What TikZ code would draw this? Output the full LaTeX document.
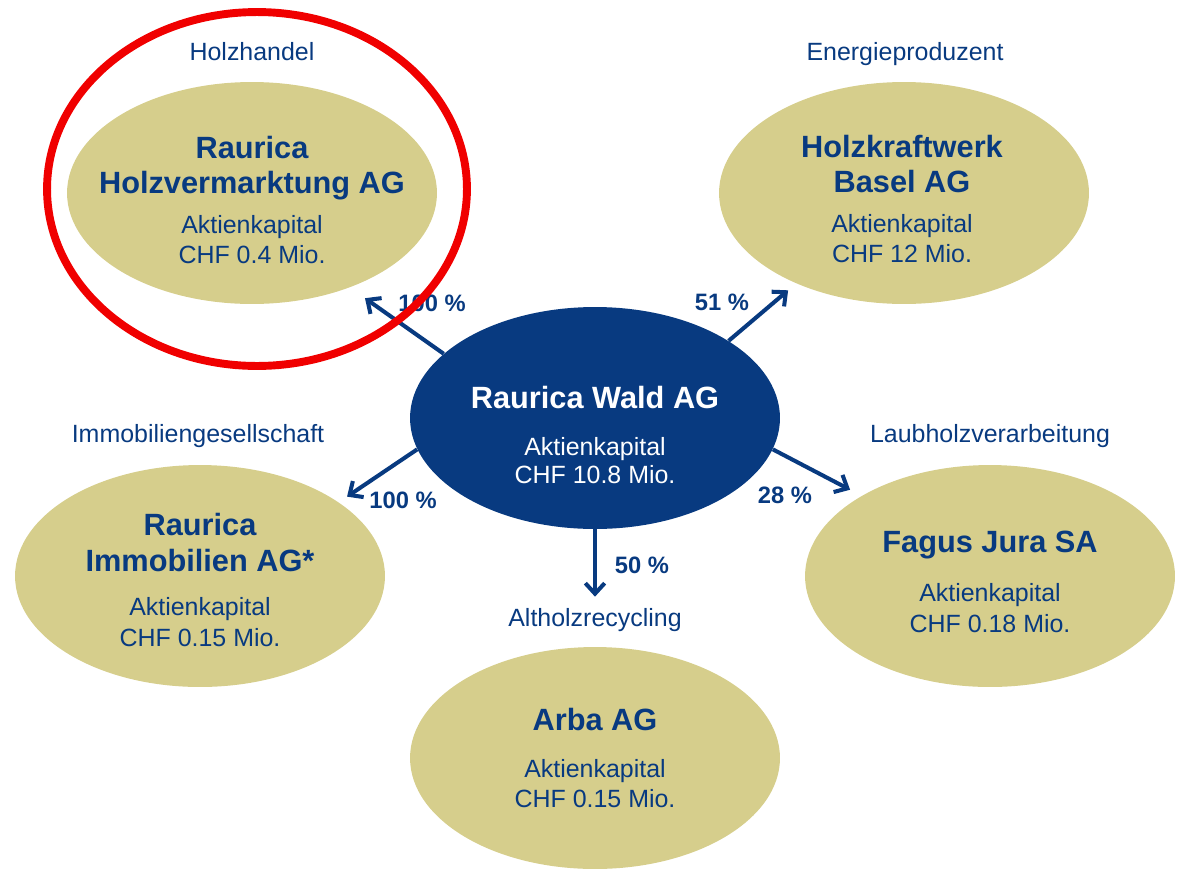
\documentclass[tikz,border=0pt]{standalone}
\usepackage{fontspec}
\setmainfont{Liberation Sans}
\usepackage{tikz}
\usetikzlibrary{shapes,arrows.meta,positioning}
\definecolor{navy}{RGB}{8,58,128}
\definecolor{khaki}{RGB}{214,206,140}
\definecolor{ringred}{RGB}{240,0,0}
\tikzset{
    -{Straight Barb[length=6pt,width=11pt]},
    every edge/.style ={draw, line width=2.3pt, color=navy},
    firm/.style ={ellipse, fill=khaki, minimum width=7.4cm, minimum height=4.44cm, inner sep=0pt},
    parent/.style ={firm, fill=navy},
    txt/.style ={align=center, text=navy, inner sep=0pt, font=\fontsize{14.2}{17.6}\selectfont},
    sector/.style ={text=navy, inner sep=0pt, font=\fontsize{14.2}{17}\selectfont},
    share/.style ={text=navy, inner sep=0pt, font=\bfseries\fontsize{13.5}{16}\selectfont},
    ring/.style ={ellipse, draw=ringred, line width=4.5pt, minimum width=8.4cm, minimum height=7.08cm}
}
\newcommand{\firmname}[1]{{\bfseries\fontsize{17.5}{20}\selectfont #1}}

\begin{document}
\begin{tikzpicture}[x=0.02cm,y=-0.02cm]
    \useasboundingbox (0,0) rectangle (1179,869);
    % Gesellschaften
    \node[parent] (1) at (595,418) {};
    \node[firm] (2) at (252,193) {};
    \node[firm] (3) at (904,193) {};
    \node[firm] (4) at (200,576) {};
    \node[firm] (5) at (990,576) {};
    \node[firm] (6) at (595,758) {};

    \node[txt, text=white] (1t) at (595,435) {\firmname{Raurica Wald AG}\\[9.1pt]Aktienkapital\\[-1.7pt]CHF 10.8 Mio.};
    \node[txt] (2t) at (252,200) {\firmname{Raurica}\\[2.3pt]\firmname{Holzvermarktung AG}\\[5.2pt]Aktienkapital\\CHF 0.4 Mio.};
    \node[txt] (3t) at (902,199) {\firmname{Holzkraftwerk}\\[2.3pt]\firmname{Basel AG}\\[5.2pt]Aktienkapital\\CHF 12 Mio.};
    \node[txt] (4t) at (200,580) {\firmname{Raurica}\\[2.9pt]\firmname{Immobilien AG*}\\[7.4pt]Aktienkapital\\CHF 0.15 Mio.};
    \node[txt] (5t) at (990,582) {\firmname{Fagus Jura SA}\\[10.3pt]Aktienkapital\\CHF 0.18 Mio.};
    \node[txt] (6t) at (595,758) {\firmname{Arba AG}\\[9.1pt]Aktienkapital\\CHF 0.15 Mio.};

    % Branchen
    \node[sector] (2s) at (252,52) {Holzhandel};
    \node[sector] (3s) at (905,54) {Energieproduzent};
    \node[sector] (4s) at (198,436) {Immobiliengesellschaft};
    \node[sector] (5s) at (990,436) {Laubholzverarbeitung};
    \node[sector] (6s) at (595,620) {Altholzrecycling};

    % Beteiligungen
    \path (1.157) edge[shorten >=0.37cm] (2.-44);
    \path (1.30) edge[shorten >=0.21cm] (3.-140);
    \path (1.-170) edge[shorten >=0.2cm] (4.28);
    \path (1.-10) edge[shorten >=0.26cm] (5.148);
    \path (1.south) edge[shorten >=1cm] (6.north);

    \node[share] (2p) at (432,303) {100 \%};
    \node[share] (3p) at (722,302) {51 \%};
    \node[share] (4p) at (403,500) {100 \%};
    \node[share] (5p) at (785,495) {28 \%};
    \node[share] (6p) at (642,565) {50 \%};

    \node[ring] (7) at (257,189) {};
\end{tikzpicture}
\end{document}
